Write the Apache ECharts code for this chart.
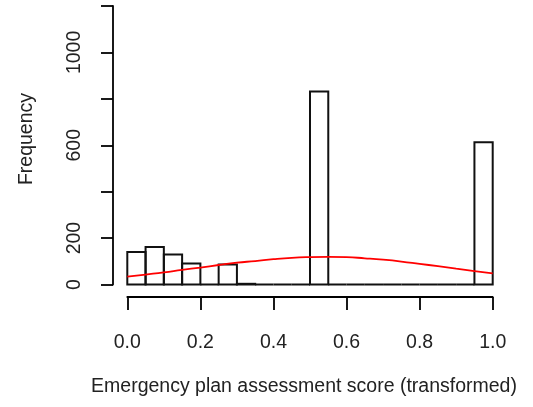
<!DOCTYPE html>
<html>
<head>
<meta charset="utf-8">
<script src="https://cdn.jsdelivr.net/npm/echarts@6/dist/echarts.min.js"></script>
<style>
html,body{margin:0;padding:0;background:#fff;}
#chart{width:533px;height:407px;}
</style>
</head>
<body>
<div id="chart"></div>
<script>
// Histogram bins (left edges) and counts
const binStart = [0.00,0.05,0.10,0.15,0.20,0.25,0.30,0.35,0.40,0.45,0.50,0.55,0.60,0.65,0.70,0.75,0.80,0.85,0.90,0.95];
const binWidth = 0.05;
const counts   = [140,162,129,90,0,86,3,0,0,0,832,0,0,0,0,0,0,0,0,613];
// Red density curve
const curveX = [0.00,0.05,0.10,0.15,0.20,0.25,0.30,0.35,0.40,0.45,0.50,0.55,0.60,0.65,0.70,0.75,0.80,0.85,0.90,0.95,1.00];
const curveY = [34,43,52,63,73,84,94,101,109,115,118,119,118,113,107,99,89,79,68,58,48];
// Y tick labels (R drops overlapping ones)
const yTickValues = [0,200,400,600,800,1000,1200];
const yTickLabels = ['0','200','','600','','1000',''];
const xTitle = 'Emergency plan assessment score (transformed)';
const yTitle = 'Frequency';

const histData = binStart.map((s,i)=>[s, s+binWidth, counts[i]]);
const curveData = curveX.map((x,i)=>[x, curveY[i]]);

const chart = echarts.init(document.getElementById('chart'), null, {renderer:'canvas'});
const font = 'Liberation Sans, Arial, sans-serif';
const fs = 19.5;
chart.setOption({
  animation:false,
  backgroundColor:'#fff',
  grid:{left:127.3, right:40.3, top:6, bottom:122.5},
  xAxis:{
    type:'value', min:0, max:1, interval:0.2, offset:12.5,
    axisLine:{show:true, onZero:false, lineStyle:{color:'#000', width:1.8}},
    axisTick:{show:true, length:13, lineStyle:{color:'#000', width:1.8}},
    axisLabel:{margin:36, color:'#222', fontSize:fs, fontFamily:font, formatter:v=>v.toFixed(1)},
    splitLine:{show:false}
  },
  yAxis:{
    type:'value', min:0, max:1200, interval:200, offset:14.3,
    axisLine:{show:true, onZero:false, lineStyle:{color:'#000', width:1.8}},
    axisTick:{show:true, length:12, lineStyle:{color:'#000', width:1.8}},
    axisLabel:{margin:28, rotate:90, color:'#222', fontSize:fs, fontFamily:font,
      formatter:v=>{const i=yTickValues.indexOf(v);return i>=0?yTickLabels[i]:'';}},
    splitLine:{show:false}
  },
  graphic:[
    {type:'text', x:304, y:387, style:{text:xTitle, fill:'#222', font:fs+'px '+font, align:'center', verticalAlign:'middle'}},
    {type:'text', x:27, y:139, rotation:Math.PI/2, style:{text:yTitle, fill:'#222', font:fs+'px '+font, align:'center', verticalAlign:'middle'}}
  ],
  series:[
    {
      type:'custom',
      data:histData,
      encode:{x:[0,1], y:2},
      renderItem:function(params, api){
        const p0 = api.coord([api.value(0), 0]);
        const p1 = api.coord([api.value(1), api.value(2)]);
        const h = p0[1]-p1[1];
        if (h < 0.5) {
          return {
            type:'line',
            shape:{x1:p0[0], y1:p0[1], x2:p1[0], y2:p0[1]},
            style:{stroke:'#111', lineWidth:2}
          };
        }
        return {
          type:'rect',
          shape:{x:p0[0], y:p1[1], width:p1[0]-p0[0], height:h},
          style:{fill:'none', stroke:'#111', lineWidth:2}
        };
      },
      z:2
    },
    {
      type:'line',
      data:curveData,
      smooth:true,
      symbol:'none',
      lineStyle:{color:'#ff0000', width:1.8},
      z:3
    }
  ]
});
</script>
</body>
</html>
